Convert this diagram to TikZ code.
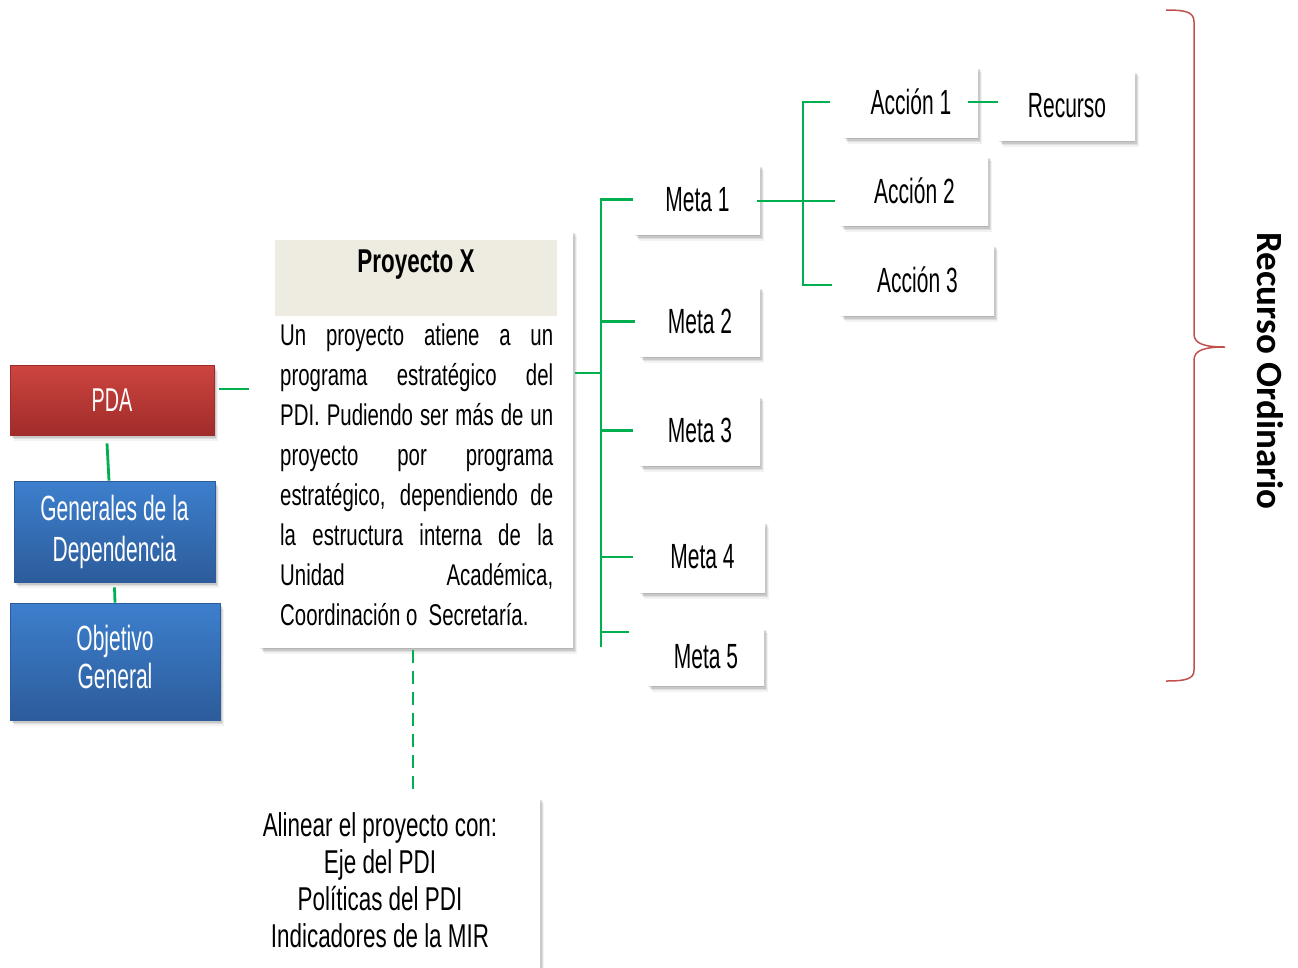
\documentclass[tikz,border=0pt]{standalone}
\usepackage{fontspec}
\usetikzlibrary{shadows,calc}
\newfontfamily\fa[FakeStretch=0.6]{Liberation Sans}
\newfontfamily\fb[FakeStretch=0.68]{Liberation Sans}
\newfontfamily\fc{Carlito}
\definecolor{gr}{HTML}{00B050}
\definecolor{rtop}{HTML}{CD4541}
\definecolor{rbot}{HTML}{A02C29}
\definecolor{btop}{HTML}{3D7FCD}
\definecolor{bbot}{HTML}{2C5C9B}
\definecolor{head}{HTML}{EEECE1}
\definecolor{brc}{HTML}{C0504D}
\tikzset{
  gline/.style={draw=gr, line width=2.8pt},
  shad/.style={
    drop shadow={shadow xshift=0pt, shadow yshift=-1pt, opacity=0.10, fill=black},
    drop shadow={shadow xshift=1.5pt, shadow yshift=-2.5pt, opacity=0.10, fill=black},
    drop shadow={shadow xshift=2.5pt, shadow yshift=-4pt, opacity=0.08, fill=black},
    drop shadow={shadow xshift=3.5pt, shadow yshift=-5.5pt, opacity=0.05, fill=black}},
  wbox/.style={shad, fill=white, inner sep=0pt, font=\fa\fontsize{35}{40}\selectfont},
  redbox/.style={shad, top color=rtop, bottom color=rbot, draw=rbot, line width=0.6pt, text=white, inner sep=0pt, align=center, font=\fa\fontsize{33}{40}\selectfont},
  bluebox/.style={shad, top color=btop, bottom color=bbot, draw=bbot, line width=0.6pt, text=white, inner sep=0pt, align=center, font=\fa\fontsize{35}{40}\selectfont},
  brace/.style={draw=brc, line width=1.5pt},
}
\begin{document}
\begin{tikzpicture}[x=1pt, y=-1pt]
\path[use as bounding box] (0,0) rectangle (1298,967);

% left column
\node[redbox, minimum width=204pt, minimum height=70pt] (pda) at (112,400) {PDA};
\node[bluebox, minimum width=201pt, minimum height=101pt, font=\fa\fontsize{35}{41}\selectfont] (gen) at (114.5,531.5) {Generales de la\\Dependencia};
\node[bluebox, minimum width=210pt, minimum height=117pt, font=\fa\fontsize{35}{39}\selectfont] (obj) at (115,661.5) {\raisebox{9pt}{\shortstack{Objetivo\\[2pt]General}}};

% project box
\node[shad, fill=white, minimum width=313pt, minimum height=418pt, inner sep=0pt] (proy) at (416.5,439) {};
\node[fill=head, minimum width=282pt, minimum height=76pt, inner sep=0pt] (head) at (416,278) {};
\node[anchor=base, inner sep=0pt, font=\fb\bfseries\fontsize{33}{40}\selectfont] (title) at (416,272) {Proyecto X};
\node[anchor=north west, inner sep=0pt, align=left, font=\fb\fontsize{30}{40}\selectfont] (para) at (280,323.5)
 {\makebox[273pt][s]{Un proyecto atiene a un}\\
  \makebox[273pt][s]{programa estratégico del}\\
  \makebox[273pt][s]{PDI. Pudiendo ser más de un}\\
  \makebox[273pt][s]{proyecto por programa}\\
  \makebox[273pt][s]{estratégico, dependiendo de}\\
  \makebox[273pt][s]{la estructura interna de la}\\
  \makebox[273pt][s]{Unidad Académica,}\\
  Coordinación o\ \ Secretaría.};

% bottom box
\node[shad, fill=white, minimum width=321pt, minimum height=203pt, inner sep=0pt] (bot) at (379.5,898.5) {};
\node[anchor=north, inner sep=0pt, align=center, font=\fb\fontsize{33}{37}\selectfont] (bottxt) at (380,812)
 {Alinear el proyecto con:\\Eje del PDI\\Políticas del PDI\\Indicadores de la MIR};

% metas
\node[wbox, minimum width=125pt, minimum height=71pt] (m1) at (697.5,199.5) {Meta 1};
\node[wbox, minimum width=120pt, minimum height=71pt] (m2) at (700,321.5) {Meta 2};
\node[wbox, minimum width=120pt, minimum height=71pt] (m3) at (700,430.5) {Meta 3};
\node[wbox, minimum width=125pt, minimum height=72pt] (m4) at (702.5,557) {Meta 4};
\node[wbox, minimum width=116pt, minimum height=59pt] (m5) at (706,656.5) {Meta 5};

% acciones
\node[wbox, minimum width=134pt, minimum height=72pt] (a1) at (911,102) {Acción 1};
\node[wbox, minimum width=147pt, minimum height=71pt] (a2) at (914.5,190.5) {Acción 2};
\node[wbox, minimum width=153pt, minimum height=72pt] (a3) at (917.5,280) {Acción 3};
\node[wbox, minimum width=136pt, minimum height=71pt] (rec) at (1067,105.5) {Recurso};

% connectors
\coordinate (pdaR) at (249,389);
\draw[gline] ([yshift=11pt,xshift=5pt]pda.east) -- (pdaR);
\draw[gline] ([yshift=-8pt,xshift=-5pt]pda.south) -- ([xshift=-5.5pt]gen.north);
\draw[gline] ([yshift=-5pt]gen.south) -- (obj.north);

\coordinate (jt) at (601,373);
\coordinate (tbot) at (601,647);
\draw[gline] ([xshift=2pt]proy.east |- jt) -- (jt);
\draw[gline] ([xshift=-2pt]m1.west) -| (tbot);
\draw[gline] (m2.west -| tbot) -- ([xshift=-5pt]m2.west);
\draw[gline] (m3.west -| tbot) -- ([xshift=-7pt]m3.west);
\draw[gline] (m4.west -| tbot) -- ([xshift=-7pt]m4.west);
\coordinate (b5) at (629,632);
\draw[gline] (b5 -| tbot) -- (b5);

\coordinate (ja) at (803,201);
\coordinate (jbot) at (803,285);
\draw[gline] ([xshift=-3pt]m1.east |- ja) -- ([xshift=-6pt]a2.west |- ja);
\draw[gline] ([xshift=-14pt]a1.west) -| (jbot) -- ([xshift=-9pt]a3.west |- jbot);
\draw[gline] ([xshift=-10pt]a1.east) -- ([xshift=-1pt]rec.west |- a1.east);

\draw[gline, dash pattern=on 13pt off 8pt] ([xshift=-3.5pt,yshift=-2pt]proy.south) -- ([xshift=33.5pt,yshift=5pt]bot.north);

% brace
\draw[brace] (1166,10) .. controls (1186,10) and (1194,12) .. (1194,22) -- (1194,334)
  .. controls (1194,344) and (1205,347) .. (1225,347)
  .. controls (1205,347) and (1194,350) .. (1194,360) -- (1194,670)
  .. controls (1194,679) and (1186,681) .. (1166,681);
\node[rotate=-90, inner sep=0pt, font=\fc\bfseries\fontsize{37}{40}\selectfont] (ro) at (1270,371) {Recurso Ordinario};
\end{tikzpicture}
\end{document}
